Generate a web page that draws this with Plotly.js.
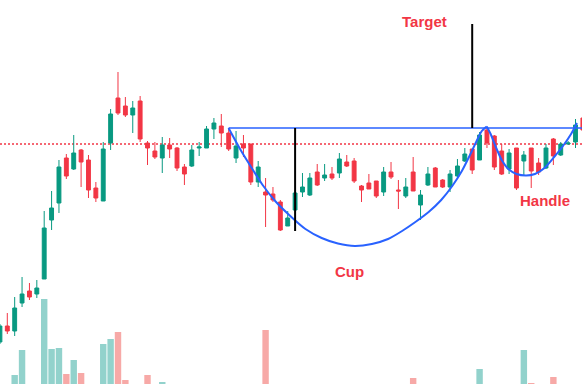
<!DOCTYPE html>
<html>
<head>
<meta charset="utf-8">
<script src="https://cdn.plot.ly/plotly-3.0.1.min.js"></script>
<style>html,body{margin:0;padding:0;background:#fff;}#chart{width:582px;height:384px;}</style>
</head>
<body>
<div id="chart"></div>
<script>
// Candle data (arbitrary price units)
var openP  = [58,74,69,97,109,106,121,180,197,242,231,250,240,212,199,257,302,294,285,299,257,249,242,255,252,233,234,252,252,271,274,267,242,256,256,218,208,206,198,174,190,208,205,228,222,226,227,238,239,214,217,219,208,228,210,204,228,195,215,232,220,213,224,239,251,240,270,264,249,231,252,239,252,237,232,261,245,256,258,282];
var highP  = [76,87,103,123,117,120,189,209,240,246,265,251,245,218,258,291,328,303,299,304,259,258,263,262,253,236,255,258,274,282,286,272,269,265,256,239,222,213,200,189,210,227,227,236,236,233,247,245,242,215,226,219,233,238,220,222,243,210,233,233,221,230,241,252,251,268,273,265,256,251,252,249,252,242,256,262,258,259,281,284];
var lowP   = [56,66,64,93,100,102,121,170,187,221,230,213,202,198,199,250,285,283,267,258,235,241,227,242,229,215,233,244,252,261,253,249,237,243,215,213,173,198,169,174,190,203,204,214,219,220,222,233,217,198,211,202,204,221,191,202,209,180,214,213,212,208,222,238,226,240,252,230,225,226,210,224,212,225,231,235,244,255,252,265];
var closeP = [74,69,92,106,103,112,172,192,233,224,247,238,210,202,251,286,287,285,292,261,252,243,255,251,232,226,250,253,271,277,267,251,254,252,218,233,205,200,170,182,207,213,222,215,225,222,241,234,219,210,211,204,228,223,209,213,209,205,226,213,213,226,234,246,230,265,257,233,226,247,212,245,229,228,252,244,256,257,275,270];
var volume = [0,0,9,34,0,0,85,35,36,10,24,11,0,0,40,45,52,4,0,0,9,0,2,0,0,0,0,0,0,0,0,0,0,0,0,0,54,0,0,0,0,0,0,0,0,0,0,0,0,0,0,0,0,0,0,0,6,0,0,0,0,0,0,0,0,15,0,0,0,0,0,34,1,0,0,7,0,0,0,0];

// Pattern annotation points (candle index, price)
var cupIdx   = [30.98,32.54,34.12,35.6,37.3,39.2,41.4,43.6,45.8,48.1,50.4,52.6,54.5,56.3,58.1,59.8,61.3,62.6,63.7,64.6,65.3,65.97];
var cupPrice = [272,251,232,215,199,185,171,162,156.5,154,156,161,169,178,188,200,214,229,245,259,269,273.5];
var handleIdx   = [65.97,66.5,67.2,68.0,68.9,70.0,71.3,72.5,73.8,75.1,76.3,77.4,78.2];
var handlePrice = [273.5,266,253,240,231,226,224.5,226,232,243,254,266,277];
var rimPrice = 272, rimStart = 31, cupBottomPrice = 169, targetPrice = 376, lastPrice = 256;
var cupMarkIdx = 40, targetMarkIdx = 64;

var idx = openP.map(function(_, i){ return i; });
var UP = '#089981', DOWN = '#f23645';
var volColors = idx.map(function(i){ return closeP[i] >= openP[i] ? 'rgba(38,166,154,0.5)' : 'rgba(239,83,80,0.5)'; });

var traces = [
  {type:'bar', x: idx, y: volume, marker:{color: volColors, line:{width:0}}, width:0.87, xaxis:'x', yaxis:'y', hoverinfo:'skip'},
  {type:'candlestick', x: idx, open: openP, high: highP, low: lowP, close: closeP, xaxis:'x', yaxis:'y2',
   increasing:{line:{color:UP, width:1}, fillcolor:UP},
   decreasing:{line:{color:DOWN, width:1}, fillcolor:DOWN}, hoverinfo:'skip'},
  {type:'scatter', mode:'lines', x: cupIdx, y: cupPrice, xaxis:'x', yaxis:'y2', line:{color:'#2962ff', width:2, shape:'spline', smoothing:0.6}, hoverinfo:'skip'},
  {type:'scatter', mode:'lines', x: handleIdx, y: handlePrice, xaxis:'x', yaxis:'y2', line:{color:'#2962ff', width:2, shape:'spline', smoothing:0.6}, hoverinfo:'skip'}
];

var tf = {family:'Arial, "Liberation Sans", sans-serif', size:15, color:'#f23645', weight:'bold'};
var layout = {
  width:582, height:384, margin:{l:0,r:0,t:0,b:0}, paper_bgcolor:'#fff', plot_bgcolor:'#fff',
  showlegend:false, boxgap:0.25, boxgroupgap:0.3,
  xaxis:{range:[0.01,78.88], visible:false, rangeslider:{visible:false}, fixedrange:true},
  yaxis:{range:[0,384], visible:false, fixedrange:true},
  yaxis2:{range:[16,400], visible:false, overlaying:'y', fixedrange:true},
  shapes:[
    {type:'line', xref:'paper', x0:0, x1:1, yref:'y2', y0:lastPrice, y1:lastPrice, line:{color:'#f23645', width:1.3, dash:'2px,2px'}, layer:'below'},
    {type:'line', xref:'x', x0:rimStart, x1:80, yref:'y2', y0:rimPrice, y1:rimPrice, line:{color:'#2962ff', width:1.3}},
    {type:'line', xref:'x', x0:cupMarkIdx, x1:cupMarkIdx, yref:'y2', y0:rimPrice, y1:cupBottomPrice, line:{color:'#000', width:2}},
    {type:'line', xref:'x', x0:targetMarkIdx, x1:targetMarkIdx, yref:'y2', y0:rimPrice, y1:targetPrice, line:{color:'#000', width:2}}
  ],
  annotations:[
    {x:57.47, y:379, xref:'x', yref:'y2', text:'Target', showarrow:false, font:tf},
    {x:47.31, y:129, xref:'x', yref:'y2', text:'Cup', showarrow:false, font:tf},
    {x:73.87, y:200, xref:'x', yref:'y2', text:'Handle', showarrow:false, font:tf}
  ]
};
Plotly.newPlot('chart', traces, layout, {staticPlot:true, displayModeBar:false});
</script>
</body>
</html>
